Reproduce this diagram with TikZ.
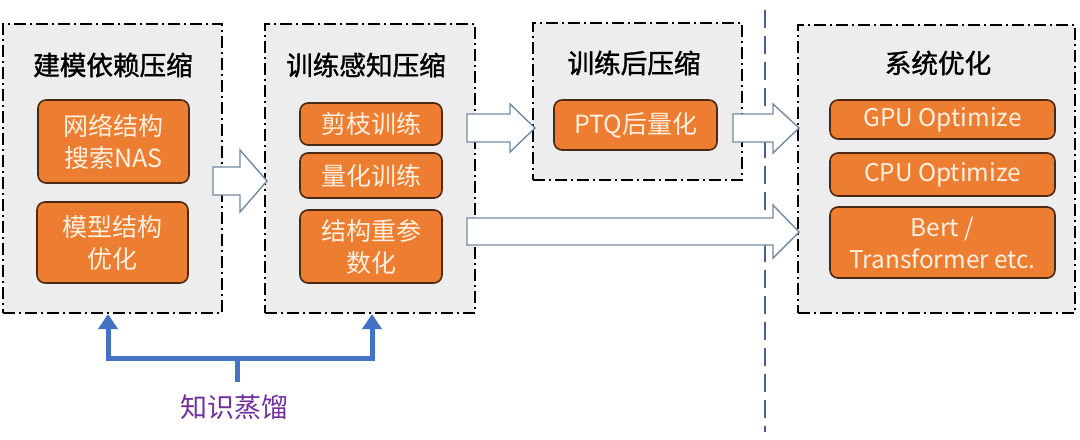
\documentclass[tikz,border=0pt]{standalone}
\usepackage{fontspec}
\setmainfont{Noto Sans CJK SC}
\newfontfamily\titlefont[FakeBold=1.3]{Noto Sans CJK SC}
\usetikzlibrary{arrows.meta}
\definecolor{boxgray}{HTML}{EDEDED}
\definecolor{orangefill}{HTML}{ED7D31}
\definecolor{orangeline}{HTML}{4A2A14}
\definecolor{orangetext}{HTML}{FFF0E0}
\definecolor{arrowline}{HTML}{728BA0}
\definecolor{bluel}{HTML}{4472C4}
\definecolor{dashblue}{HTML}{4A5FA0}
\definecolor{purplet}{HTML}{7030A0}
\tikzset{
  stagebox/.style={draw=black, fill=boxgray, line width=1pt,
    dash pattern=on 6pt off 2pt on 1pt off 2pt, inner sep=0pt},
  titletext/.style={font=\titlefont\fontsize{13.3pt}{16pt}\selectfont, text=black, inner sep=0pt},
  obox/.style={draw=orangeline, fill=orangefill, line width=0.8pt, rounded corners=4pt,
    text=orangetext, font=\fontsize{12.5pt}{16pt}\selectfont, align=center, inner sep=0pt},
  latbox/.style={obox, font=\fontsize{12.2pt}{16pt}\selectfont},
  blockarrow/.style={draw=arrowline, fill=white, line width=0.7pt, line join=miter},
}
\begin{document}
\begin{tikzpicture}[x=0.5pt, y=-0.5pt]
\useasboundingbox[fill=white] (0,0) rectangle (1080,439);

% divider
\coordinate (dtop) at (765,10);
\coordinate (dbot) at (765,432);
\draw[dashblue, line width=0.8pt, dash pattern=on 9pt off 4pt] (dtop) -- (dbot);

% stage boxes
\node[stagebox, minimum width=109.5pt, minimum height=144.5pt] (b1) at (112.5,168.5) {};
\node[stagebox, minimum width=105pt, minimum height=144.5pt] (b2) at (370,168.5) {};
\node[stagebox, minimum width=104.5pt, minimum height=78.5pt] (b3) at (637.5,101.5) {};
\node[stagebox, minimum width=138.5pt, minimum height=144pt] (b4) at (936.5,169) {};

% titles
\node[titletext] (t1) at (113,65) {建模依赖压缩};
\node[titletext] (t2) at (366,65) {训练感知压缩};
\node[titletext] (t3) at (634,63) {训练后压缩};
\node[titletext] (t4) at (938,63) {系统优化};

% orange boxes
\node[obox, minimum width=75.5pt, minimum height=41.5pt] (o1) at (113.5,141.5) {网络结构\\搜索NAS};
\node[obox, minimum width=75.5pt, minimum height=40.5pt] (o2) at (112.5,242.5) {模型结构\\优化};
\node[obox, minimum width=71pt, minimum height=21pt] (o3) at (371,124) {剪枝训练};
\node[obox, minimum width=71pt, minimum height=22.5pt] (o4) at (371,175.5) {量化训练};
\node[obox, minimum width=71pt, minimum height=36.5pt] (o5) at (371,246.5) {结构重参\\数化};
\node[obox, minimum width=81.5pt, minimum height=25pt] (o6) at (635.5,125) {PTQ后量化};
\node[latbox, minimum width=112.5pt, minimum height=19.5pt] (o7) at (942.5,119.5) {GPU Optimize};
\node[latbox, minimum width=112.5pt, minimum height=21.5pt] (o8) at (942.5,174.5) {CPU Optimize};
\node[latbox, minimum width=112.5pt, minimum height=35.5pt] (o9) at (942.5,242.5) {Bert /\\Transformer etc.};

% block arrows
\draw[blockarrow] (213,167) -- (240,167) -- (240,150) -- (267,181) -- (240,212) -- (240,195) -- (213,195) -- cycle;
\draw[blockarrow] (467,114) -- (510,114) -- (510,104) -- (535,128) -- (510,152) -- (510,142) -- (467,142) -- cycle;
\draw[blockarrow] (733,114) -- (773,114) -- (773,104) -- (799,128) -- (773,153) -- (773,142) -- (733,142) -- cycle;
\draw[blockarrow] (467,218) -- (773,218) -- (773,205) -- (799,232) -- (773,258) -- (773,245) -- (467,245) -- cycle;

% knowledge distillation bracket
\coordinate (kl) at (108,358);
\coordinate (kr) at (372,358);
\coordinate (km) at (237,358);
\coordinate (kmb) at (237,382);
\draw[bluel, line width=2.5pt, line join=miter, {Triangle[width=9.5pt,length=7.5pt]}-{Triangle[width=9.5pt,length=7.5pt]}]
  (b1.south -| kl) -- (kl) -- (kr) -- (b2.south -| kr);
\draw[bluel, line width=2.5pt] (km) -- (kmb);
\node[font=\fontsize{13.5pt}{16pt}\selectfont, text=purplet, inner sep=0pt] (kd) at (234,407) {知识蒸馏};
\end{tikzpicture}
\end{document}
